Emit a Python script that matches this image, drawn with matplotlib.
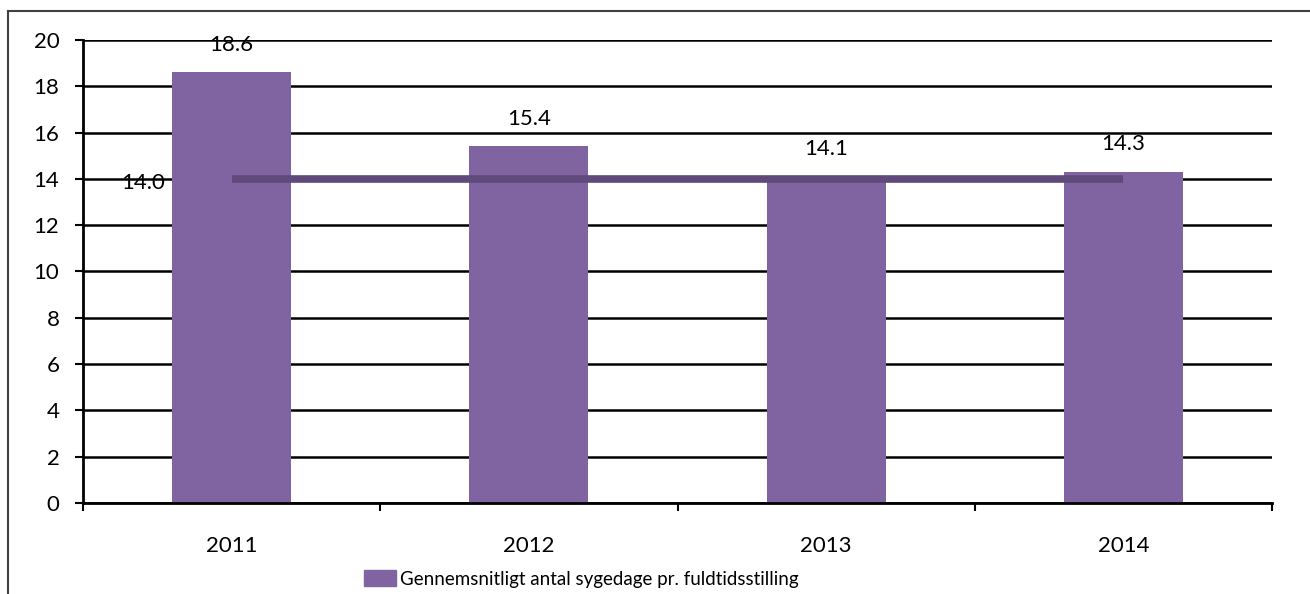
import matplotlib.pyplot as plt
from matplotlib.lines import Line2D
from matplotlib.patches import Patch

# ── DATA ──────────────────────────────────────────────────────────────────────
years      = ["2011", "2012", "2013", "2014"]
sick_days  = [18.6, 15.4, 14.1, 14.3]
avg_value  = 14.0
avg_line   = [avg_value] * len(years)
y_ticks    = [0, 2, 4, 6, 8, 10, 12, 14, 16, 18, 20]
legend_txt = "Gennemsnitligt antal sygedage pr. fuldtidsstilling"

BAR_COLOR  = "#8064A2"
LINE_COLOR = "#5F4A7B"
FS         = 16

plt.rcParams["font.family"] = ["Lato", "DejaVu Sans"]

fig = plt.figure(figsize=(13.1, 5.94), dpi=100)
ax = fig.add_axes([0.0634, 0.1532, 0.9076, 0.7795])

x = list(range(len(years)))
ax.bar(x, sick_days, width=0.4, color=BAR_COLOR, zorder=2)
ax.plot(x, avg_line, color=LINE_COLOR, lw=5.5, solid_capstyle="butt", zorder=3)

# value labels
for xi, v in zip(x, sick_days):
    ax.annotate(f"{v:.1f}", (xi, v), xytext=(0, 20), textcoords="offset points",
                ha="center", va="center", fontsize=FS)
ax.annotate(f"{avg_value:.1f}", (x[0], avg_value), xytext=(-64, -3),
            textcoords="offset points", ha="center", va="center", fontsize=FS)

ax.set_xlim(-0.5, len(years) - 0.5)
ax.set_ylim(0, 20)
ax.set_yticks(y_ticks)
ax.set_yticklabels([str(t) for t in y_ticks], fontsize=FS)
ax.tick_params(axis="y", length=6, width=1.5, pad=11, direction="out")
ax.yaxis.grid(True, color="black", lw=1.8, zorder=0)
ax.set_axisbelow(True)

# category boundaries as ticks, year names as minor labels
ax.set_xticks([i - 0.5 for i in range(len(years) + 1)])
ax.set_xticklabels([])
ax.tick_params(axis="x", which="major", length=6, width=1.5, direction="out")
ax.set_xticks(x, minor=True)
ax.set_xticklabels(years, minor=True, fontsize=FS)
ax.tick_params(axis="x", which="minor", length=0, pad=24)

for side in ["top", "right"]:
    ax.spines[side].set_visible(False)
for side in ["left", "bottom"]:
    ax.spines[side].set_linewidth(2)

# legend (bar series only)
fig.legend(handles=[Patch(color=BAR_COLOR, label=legend_txt)],
           loc="center", bbox_to_anchor=(581 / 1310, 1 - 579 / 594),
           frameon=False, fontsize=13.5, handlelength=1.7, handleheight=0.95,
           handletextpad=0.2, borderpad=0)

# outer chart frame (cut by the image edge on the right and bottom)
fig.add_artist(Line2D([8 / 1310, 8 / 1310], [0, 1 - 11 / 594],
                      color="#404040", lw=1.5, transform=fig.transFigure))
fig.add_artist(Line2D([8 / 1310, 1], [1 - 11 / 594, 1 - 11 / 594],
                      color="#404040", lw=1.5, transform=fig.transFigure))

fig.savefig("out.png", dpi=100)
